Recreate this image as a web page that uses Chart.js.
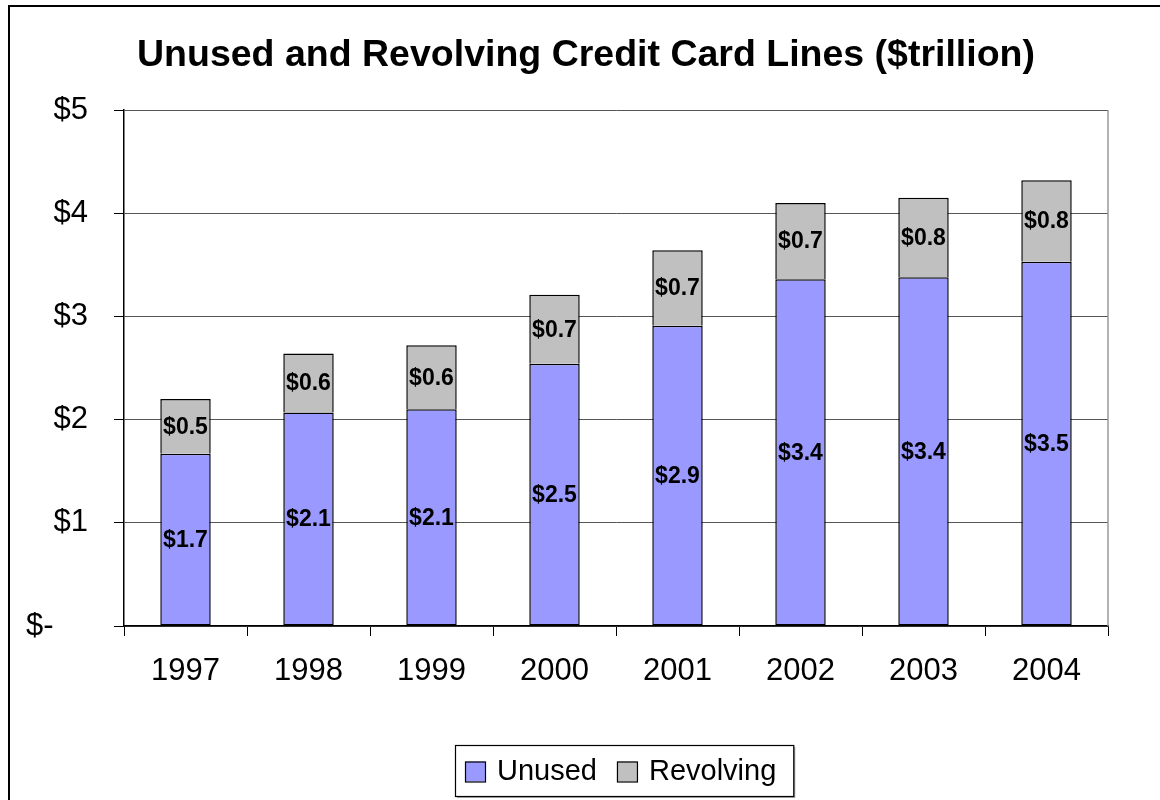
<!DOCTYPE html>
<html>
<head>
<meta charset="utf-8">
<script src="https://cdn.jsdelivr.net/npm/chart.js@4.4.1/dist/chart.umd.min.js"></script>
<style>
  html, body { margin: 0; padding: 0; background: #fff; }
  #wrap { width: 1160px; height: 800px; position: relative; }
</style>
</head>
<body>
<div id="wrap"><canvas id="c" width="1160" height="800"></canvas></div>
<script>
// Credit card lines by year, in $ trillion
const years = ['1997', '1998', '1999', '2000', '2001', '2002', '2003', '2004'];
const unused = [1.67, 2.07, 2.10, 2.54, 2.91, 3.36, 3.38, 3.53];
const revolving = [0.53, 0.57, 0.62, 0.67, 0.73, 0.74, 0.77, 0.79];
const yTickLabels = { 0: '$-    ', 1: '$1', 2: '$2', 3: '$3', 4: '$4', 5: '$5' };
const chartTitle = 'Unused and Revolving Credit Card Lines ($trillion)';

const FONT = "'Liberation Sans', Arial, Helvetica, sans-serif";
const LEGEND_SPACE = 58;
const TITLE_SPACE = 110;

// White page with a frame along the top and left edges, plus the title
const pageFrame = {
  id: 'pageFrame',
  beforeDraw(chart) {
    const ctx = chart.ctx;
    ctx.save();
    ctx.fillStyle = '#fff';
    ctx.fillRect(0, 0, chart.width, chart.height);
    ctx.strokeStyle = '#000';
    ctx.lineWidth = 2;
    ctx.beginPath();
    ctx.moveTo(9, chart.height);
    ctx.lineTo(9, 6);
    ctx.lineTo(chart.width, 6);
    ctx.stroke();

    ctx.font = 'bold 37.5px ' + FONT;
    ctx.fillStyle = '#000';
    ctx.textAlign = 'center';
    ctx.textBaseline = 'middle';
    const a = chart.chartArea;
    ctx.fillText(chartTitle, (a.left + a.right) / 2 - 30, 56);
    ctx.restore();
  }
};

// Grey right edge of the plot area
const plotEdge = {
  id: 'plotEdge',
  afterDraw(chart) {
    const ctx = chart.ctx;
    const a = chart.chartArea;
    ctx.save();
    ctx.strokeStyle = '#999';
    ctx.lineWidth = 1.5;
    ctx.beginPath();
    ctx.moveTo(a.right, a.top);
    ctx.lineTo(a.right, a.bottom);
    ctx.stroke();
    ctx.restore();
  }
};

// Framed legend below the axis, built from the datasets
const boxedLegend = {
  id: 'boxedLegend',
  afterDraw(chart) {
    const ctx = chart.ctx;
    const a = chart.chartArea;
    const sw = 20, gapText = 12, gapItem = 20, padL = 10, padR = 17;
    ctx.save();
    ctx.font = '29px ' + FONT;
    const items = chart.data.datasets.map(ds => ({
      text: ds.label, fill: ds.backgroundColor, w: ctx.measureText(ds.label).width
    }));
    let total = padL + padR;
    items.forEach((it, i) => { total += sw + gapText + it.w + (i ? gapItem : 0); });
    const cx = (a.left + a.right) / 2 + 8;
    const x0 = Math.round(cx - total / 2);
    const y0 = chart.height - LEGEND_SPACE + 3;
    const h = 51;
    // frame with a soft shadow on the right and bottom
    ctx.fillStyle = '#aaa';
    ctx.fillRect(x0 + 2, y0 + 2, total, h);
    ctx.fillStyle = '#fff';
    ctx.fillRect(x0, y0, total, h);
    ctx.strokeStyle = '#000';
    ctx.lineWidth = 1.2;
    ctx.strokeRect(x0 + 0.5, y0 + 0.5, total, h);
    let x = x0 + padL;
    const midY = y0 + h / 2 + 1;
    items.forEach((it, i) => {
      if (i) x += gapItem;
      ctx.fillStyle = it.fill;
      ctx.fillRect(x, midY - sw / 2, sw, sw);
      ctx.strokeStyle = '#000';
      ctx.lineWidth = 1.2;
      ctx.strokeRect(x + 0.5, midY - sw / 2 + 0.5, sw, sw);
      x += sw + gapText;
      ctx.fillStyle = '#000';
      ctx.textBaseline = 'middle';
      ctx.textAlign = 'left';
      ctx.fillText(it.text, x, midY);
      x += it.w;
    });
    ctx.restore();
  }
};

// Value labels centred in each bar segment
const segmentLabels = {
  id: 'segmentLabels',
  afterDatasetsDraw(chart) {
    const ctx = chart.ctx;
    ctx.save();
    ctx.font = 'bold 23px ' + FONT;
    ctx.fillStyle = '#000';
    ctx.textAlign = 'center';
    ctx.textBaseline = 'middle';
    chart.data.datasets.forEach((ds, i) => {
      const meta = chart.getDatasetMeta(i);
      meta.data.forEach((bar, j) => {
        const v = ds.data[j];
        ctx.fillText('$' + v.toFixed(1), bar.x, (bar.y + bar.base) / 2 + 1);
      });
    });
    ctx.restore();
  }
};

new Chart(document.getElementById('c'), {
  type: 'bar',
  data: {
    labels: years,
    datasets: [
      {
        label: 'Unused',
        data: unused,
        backgroundColor: '#9999FF',
        borderColor: '#000',
        borderWidth: 1.5,
        borderSkipped: false,
        categoryPercentage: 1,
        barPercentage: 0.41
      },
      {
        label: 'Revolving',
        data: revolving,
        backgroundColor: '#C0C0C0',
        borderColor: '#000',
        borderWidth: 1.5,
        borderSkipped: 'bottom',
        categoryPercentage: 1,
        barPercentage: 0.41
      }
    ]
  },
  options: {
    responsive: false,
    animation: false,
    devicePixelRatio: 1,
    layout: { padding: { left: 10, right: 52, top: TITLE_SPACE, bottom: LEGEND_SPACE } },
    plugins: {
      title: { display: false },
      legend: { display: false },
      tooltip: { enabled: false }
    },
    scales: {
      x: {
        stacked: true,
        offset: true,
        afterFit(scale) { scale.height = 800 - LEGEND_SPACE - 626; },
        grid: {
          offset: true,
          drawOnChartArea: false,
          drawTicks: true,
          tickLength: 10,
          tickColor: '#000',
          color: '#000'
        },
        border: { color: '#000', width: 1.5 },
        ticks: {
          color: '#000',
          font: { family: FONT, size: 31 },
          padding: 17,
          maxRotation: 0
        }
      },
      y: {
        stacked: true,
        min: 0,
        max: 5,
        afterFit(scale) { scale.width = 114; },
        grid: {
          color: '#555',
          lineWidth: 1,
          tickLength: 10,
          tickColor: '#000'
        },
        border: { color: '#000', width: 1.5 },
        ticks: {
          stepSize: 1,
          color: '#000',
          padding: 26,
          font: { family: FONT, size: 31 },
          callback: (v) => yTickLabels[v]
        }
      }
    }
  },
  plugins: [pageFrame, plotEdge, boxedLegend, segmentLabels]
});
</script>
</body>
</html>
